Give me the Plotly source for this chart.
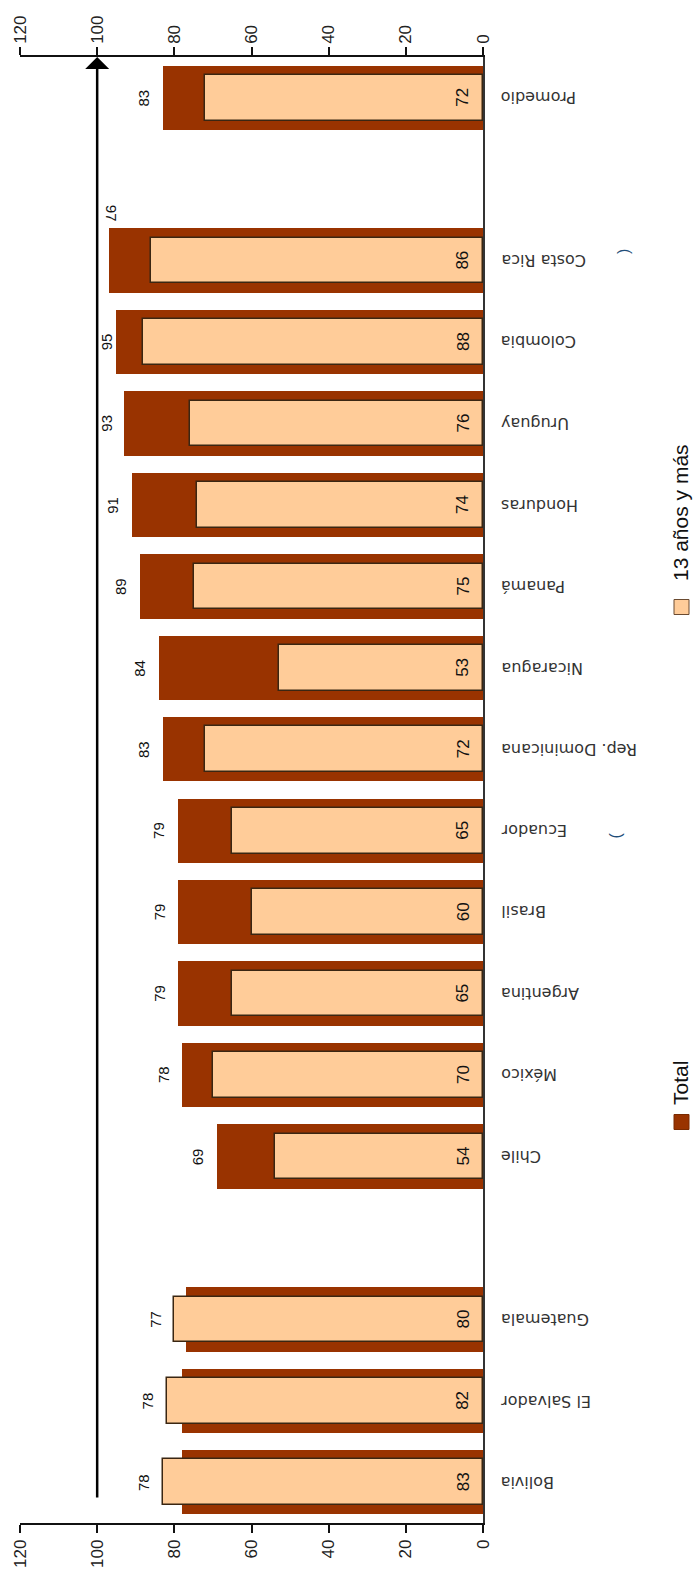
import plotly.graph_objects as go

# ---- data (top to bottom as drawn) ----
countries = ["Promedio", " ", "Costa Rica", "Colombia", "Uruguay", "Honduras", "Panamá",
             "Nicaragua", "Rep. Dominicana", "Ecuador", "Brasil", "Argentina", "México",
             "Chile", "  ", "Guatemala", "El Salvador", "Bolivia"]
total = [83, None, 97, 95, 93, 91, 89, 84, 83, 79, 79, 79, 78, 69, None, 77, 78, 78]
mas13 = [72, None, 86, 88, 76, 74, 75, 53, 72, 65, 60, 65, 70, 54, None, 80, 82, 83]
x_ticks = [0, 20, 40, 60, 80, 100, 120]
reference = 100
series_names = ["Total", "13 años y más"]

# ---- layout geometry (pixels) ----
W, H = 695, 1579
L, R, T, B = 20, 212, 57, 56
PW, PH = W - L - R, H - T - B
X_MAX = 120
PPU = PW / X_MAX  # pixels per unit on the value axis


def px_x(px):
    return (px - L) / PW


def px_y(py):
    return (H - B - py) / PH


DARK = "#993300"
LIGHT = "#FFCC99"
FONT = "Liberation Sans, Arial, sans-serif"
LABEL_FONT = "DejaVu Sans, sans-serif"

fig = go.Figure()
fig.add_trace(go.Bar(
    y=countries, x=total, orientation="h", width=0.79, name=series_names[0],
    marker=dict(color=DARK, line=dict(width=0)), hoverinfo="x+y",
))
fig.add_trace(go.Bar(
    y=countries, x=mas13, orientation="h", width=0.56, name=series_names[1],
    marker=dict(color=LIGHT, line=dict(width=1.5, color="#3a2612")), hoverinfo="x+y",
))
# helper trace so the top axis is drawn
fig.add_trace(go.Scatter(x=[0], y=[countries[0]], xaxis="x2", mode="markers",
                         marker=dict(opacity=0), hoverinfo="skip", showlegend=False))

axis_common = dict(range=[X_MAX, 0], tickvals=x_ticks, tickangle=-90, showgrid=False, zeroline=False,
                   showline=True, linecolor="#111", linewidth=1.5, ticks="outside", ticklen=8,
                   tickwidth=1.5, tickcolor="#111", automargin=False,
                   tickfont=dict(family=FONT, size=17, color="#222"))

fig.update_layout(
    width=W, height=H, margin=dict(l=L, r=R, t=T, b=B),
    paper_bgcolor="white", plot_bgcolor="white",
    barmode="overlay", showlegend=False, bargap=0,
    xaxis=dict(**axis_common, side="bottom"),
    xaxis2=dict(**axis_common, side="top", overlaying="x", matches="x"),
    yaxis=dict(categoryorder="array", categoryarray=countries,
               range=[len(countries) - 0.5, -0.5], automargin=False,
               side="right", showline=True, linecolor="#333", linewidth=1.5, ticks="",
               showticklabels=False, showgrid=False),
)

# value labels
for c, t, m in zip(countries, total, mas13):
    if t is None:
        continue
    # inner series label near the base
    fig.add_annotation(x=0, y=c, xref="x", yref="y", text=str(m), showarrow=False,
                       textangle=-90, xanchor="center", yanchor="middle", xshift=-20,
                       font=dict(family=FONT, size=17, color="#111"))
    # Total label, left of the longer of the two bars
    edge = max(t, m)
    if edge > reference - 4:
        # would collide with the reference arrow: put it above the bar
        fig.add_annotation(x=edge, y=c, xref="x", yref="y", text=str(t), showarrow=False,
                           textangle=90, xanchor="center", yanchor="middle",
                           xshift=3, yshift=47,
                           font=dict(family=FONT, size=15, color="#111"))
    else:
        pos = min(edge + 19 / PPU, reference - 9 / PPU)  # keep clear of the arrow
        fig.add_annotation(x=pos, y=c, xref="x", yref="y", text=str(t), showarrow=False,
                           textangle=-90, xanchor="center", yanchor="middle",
                           font=dict(family=FONT, size=15, color="#111"))

# category labels (upside down, to the right of the axis)
for c in countries:
    if not c.strip():
        continue
    fig.add_annotation(x=px_x(499), y=c, xref="paper", yref="y", text=c, showarrow=False,
                       textangle=180, xanchor="left", yanchor="middle",
                       font=dict(family=LABEL_FONT, size=16, color="#333"))

# reference arrow at 100
fig.add_annotation(x=reference, y=1, xref="x", yref="y domain",
                   ax=reference, ay=px_y(1499), axref="x", ayref="y domain",
                   showarrow=True, arrowhead=1, arrowsize=1.6, arrowwidth=2.5,
                   arrowcolor="#000", text="")

# legend (rotated)
legend_items = [(series_names[0], DARK, "#7a2a00", 1122, 1083),
                (series_names[1], LIGHT, "#6a4a30", 607, 513)]
for name, col, edgecol, sq_y, txt_y in legend_items:
    fig.add_shape(type="rect", xref="paper", yref="paper",
                  x0=px_x(674), x1=px_x(689), y0=px_y(sq_y + 7.5), y1=px_y(sq_y - 7.5),
                  fillcolor=col, line=dict(color=edgecol, width=1))
    fig.add_annotation(x=px_x(680), y=px_y(txt_y), xref="paper", yref="paper",
                       text=name, showarrow=False, textangle=-90,
                       xanchor="center", yanchor="middle",
                       font=dict(family=FONT, size=21, color="#111"))

# faint fragments of a clipped title
for ch, fx, fy in [(")", 634, 247), ("(", 626, 836)]:
    fig.add_annotation(x=px_x(fx), y=px_y(fy), xref="paper", yref="paper", text=ch,
                       showarrow=False, textangle=-90,
                       font=dict(family=FONT, size=16, color="#1f4e79"))

fig.write_html("out.html", config={"displayModeBar": False},
               post_script="document.body.style.margin='0';document.body.style.overflow='hidden';")
